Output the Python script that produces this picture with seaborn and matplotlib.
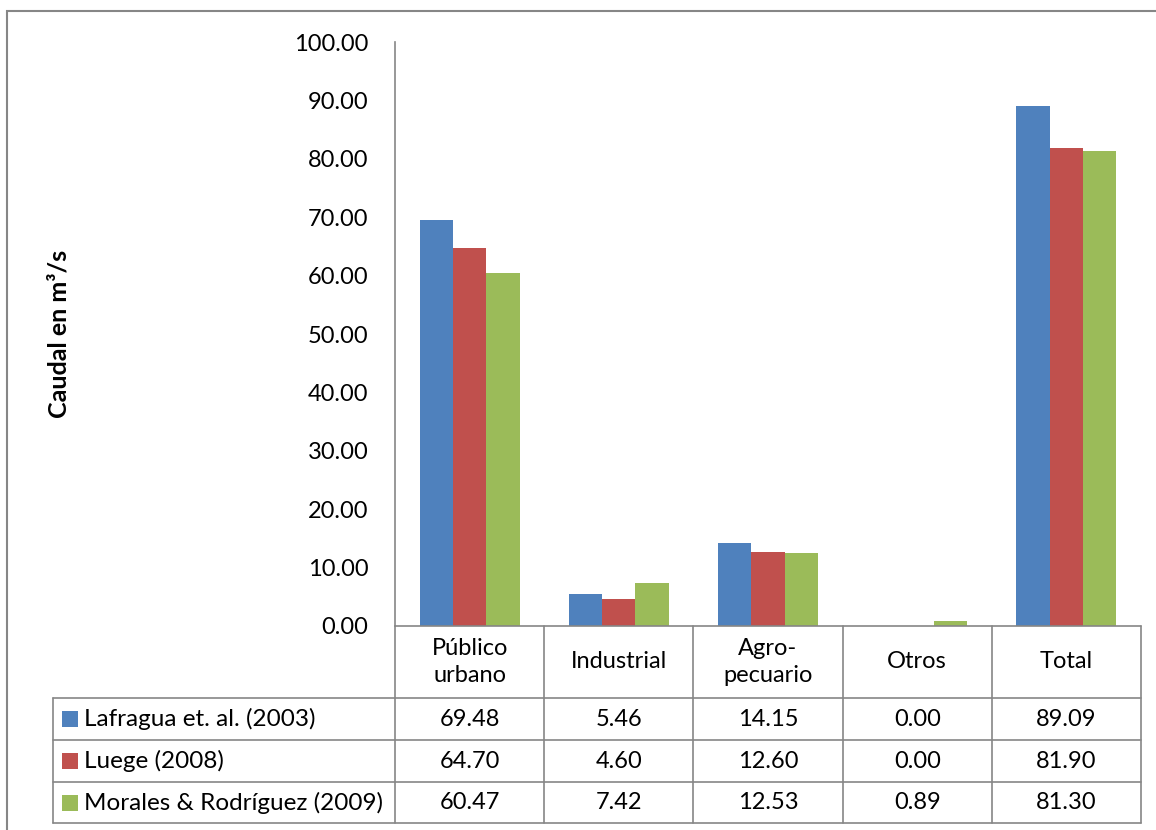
import numpy as np
import pandas as pd
import matplotlib
matplotlib.use("Agg")
import matplotlib.pyplot as plt
import matplotlib.transforms as mtransforms
from matplotlib.lines import Line2D
from matplotlib.patches import Rectangle
import seaborn as sns

# Water withdrawal by use (m³/s) reported by three sources
categories = ["Público\nurbano", "Industrial", "Agro-\npecuario", "Otros", "Total"]
series = ["Lafragua et. al. (2003)", "Luege (2008)", "Morales & Rodríguez (2009)"]
lafragua = [69.48, 5.46, 14.15, 0.00, 89.09]
luege = [64.70, 4.60, 12.60, 0.00, 81.90]
morales = [60.47, 7.42, 12.53, 0.89, 81.30]
colors = ["#4F81BD", "#C0504D", "#9BBB59"]
yticks = [0, 10, 20, 30, 40, 50, 60, 70, 80, 90, 100]

values = [lafragua, luege, morales]
df = pd.DataFrame(
    [(cat, s, v) for s, vals in zip(series, values) for cat, v in zip(categories, vals)],
    columns=["uso", "fuente", "caudal"],
)

sns.set_theme(style="white")
plt.rcParams["font.family"] = ["Lato", "DejaVu Sans"]

W, H = 1156, 830
fig = plt.figure(figsize=(W / 100, H / 100), dpi=100)

def fx(x):
    return x / W

def fy(y):
    return 1 - y / H

FS = 17

ax_left, ax_right, ax_top, ax_bottom = 395, 1141, 42, 626
ax = fig.add_axes([fx(ax_left), fy(ax_bottom), fx(ax_right) - fx(ax_left), fy(ax_top) - fy(ax_bottom)])

sns.barplot(
    data=df, x="uso", y="caudal", hue="fuente", order=categories, hue_order=series,
    palette=colors, width=0.67, errorbar=None, legend=False, ax=ax,
    saturation=1, edgecolor="none",
)

ax.set_xlim(-0.5, len(categories) - 0.5)
ax.set_ylim(0, 100)
ax.set_yticks(yticks)
ax.set_yticklabels([f"{t:.2f}" for t in yticks], fontsize=FS, color="black")
ax.tick_params(axis="y", length=0, pad=19)
ax.set_xticks([])
ax.set_xlabel("")
ax.set_ylabel("")
for side in ["top", "right", "bottom"]:
    ax.spines[side].set_visible(False)
ax.spines["left"].set_color("#868686")
ax.spines["left"].set_linewidth(1.2)

fig.text(fx(59), fy(334), "Caudal en m³/s", rotation=90, ha="center", va="center",
         fontsize=18, fontweight="bold", color="black")

# Data table under the plot
grid_c = "#868686"
lw = 1.2
row_edges = [626, 698, 740, 782, 823]
legend_left = 53
xt = mtransforms.blended_transform_factory(ax.transData, fig.transFigure)

# horizontal rules
fig.add_artist(Line2D([fx(ax_left), fx(ax_right)], [fy(626)] * 2, color=grid_c, lw=lw))
for y in row_edges[1:]:
    fig.add_artist(Line2D([fx(legend_left), fx(ax_right)], [fy(y)] * 2, color=grid_c, lw=lw))
# vertical rules
fig.add_artist(Line2D([fx(legend_left)] * 2, [fy(698), fy(823)], color=grid_c, lw=lw))
fig.add_artist(Line2D([fx(ax_left)] * 2, [fy(626), fy(823)], color=grid_c, lw=lw))
for i in range(len(categories)):
    fig.add_artist(Line2D([i + 0.5] * 2, [fy(626), fy(823)], color=grid_c, lw=lw,
                          transform=xt))

# header row
for i, cat in enumerate(categories):
    fig.text(i, fy((626 + 698) / 2), cat, transform=xt, ha="center", va="center",
             fontsize=FS, linespacing=1.35, color="black")

# value rows with legend keys
for r, (name, vals, col) in enumerate(zip(series, values, colors)):
    yc = (row_edges[r + 1] + row_edges[r + 2]) / 2
    fig.add_artist(Rectangle((fx(62), fy(yc + 8)), fx(16), fy(yc - 8) - fy(yc + 8),
                             facecolor=col, edgecolor="none"))
    fig.text(fx(84), fy(yc), name, ha="left", va="center", fontsize=FS + 0.5, color="black")
    for i, v in enumerate(vals):
        fig.text(i, fy(yc), f"{v:.2f}", transform=xt, ha="center", va="center",
                 fontsize=FS, color="black")

# chart area frame
fig.add_artist(Rectangle((fx(7), fy(H + 20)), fx(W + 20), fy(11) - fy(H + 20),
                         facecolor="none", edgecolor=grid_c, lw=1.5))

fig.savefig("out.png", dpi=100)
